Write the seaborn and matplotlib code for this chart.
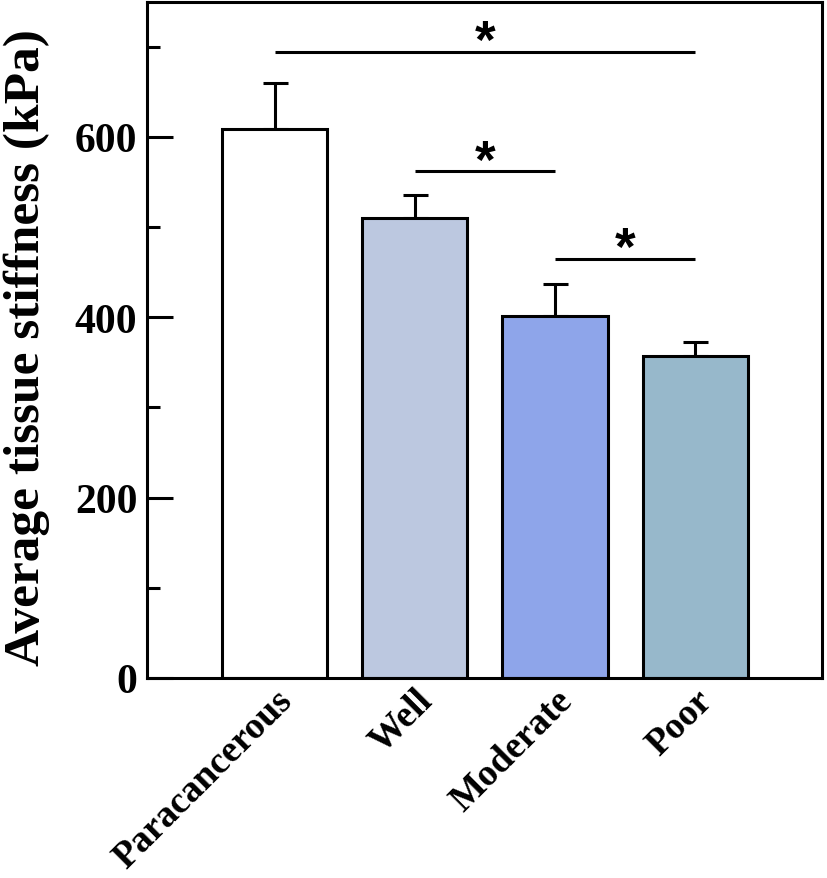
import matplotlib
matplotlib.use("Agg")
import matplotlib.pyplot as plt
import seaborn as sns
import pandas as pd
import numpy as np
from matplotlib.ticker import MultipleLocator

categories = ["Paracancerous", "Well", "Moderate", "Poor"]
means = [609, 510, 401, 357]
errors = [51, 25, 36, 16]
colors = ["#FFFFFF", "#BCC8E0", "#8EA5EA", "#97B8CB"]
sig_pairs = [(0, 3), (1, 2), (2, 3)]
sig_heights = [694, 562, 465]
sig_labels = ["*", "*", "*"]

sns.set_theme(style="ticks")
plt.rcParams['font.family'] = ['Liberation Serif', 'DejaVu Serif']
plt.rcParams['font.weight'] = 'bold'
plt.rcParams['text.color'] = 'black'
plt.rcParams['axes.labelcolor'] = 'black'
plt.rcParams['xtick.color'] = 'black'
plt.rcParams['ytick.color'] = 'black'

df = pd.DataFrame({"group": categories, "value": means})

fig = plt.figure(figsize=(8.27, 8.79), dpi=100)
ax = fig.add_axes([147/827, 1 - 679/879, (822-147)/827, (679-2.5)/879])

lw = 2.2
ax.errorbar(np.arange(len(categories)), means,
            yerr=[np.zeros(len(errors)), errors],
            fmt="none", ecolor="black", elinewidth=lw, capsize=9, capthick=lw, zorder=1)
sns.barplot(data=df, x="group", y="value", hue="group", palette=colors,
            saturation=1, width=0.75, edgecolor="black", linewidth=lw, errorbar=None,
            legend=False, ax=ax, zorder=2)

for (a, b), h, s in zip(sig_pairs, sig_heights, sig_labels):
    ax.plot([a, b], [h, h], color="black", lw=lw, solid_capstyle="butt")
    ax.text((a + b) / 2, h - 6, s, ha="center", va="baseline", fontsize=38,
            fontweight="bold", color="black", family=["Liberation Sans", "DejaVu Sans"])

ax.set_xlim(-0.914, 3.907)
ax.set_ylim(0, 750)
ax.yaxis.set_major_locator(MultipleLocator(200))
ax.yaxis.set_minor_locator(MultipleLocator(100))
ax.tick_params(axis="y", which="major", direction="in", length=19, width=lw, pad=7,
               labelsize=30)
ax.tick_params(axis="y", which="minor", direction="in", length=9.5, width=lw)
ax.tick_params(axis="x", which="both", length=0, labelsize=27, pad=3)
for lab in ax.get_yticklabels():
    lab.set_fontweight("bold")
for lab in ax.get_xticklabels():
    lab.set_rotation(45)
    lab.set_ha("right")
    lab.set_va("top")
    lab.set_rotation_mode("anchor")
    lab.set_fontweight("bold")

for sp in ax.spines.values():
    sp.set_linewidth(lw)
    sp.set_color("black")

ax.set_xlabel("")
ax.set_ylabel("Average tissue stiffness (kPa)", fontsize=37, fontweight="bold")
ax.yaxis.set_label_coords(-0.143, 0.49)

fig.savefig("out.png", dpi=100)
